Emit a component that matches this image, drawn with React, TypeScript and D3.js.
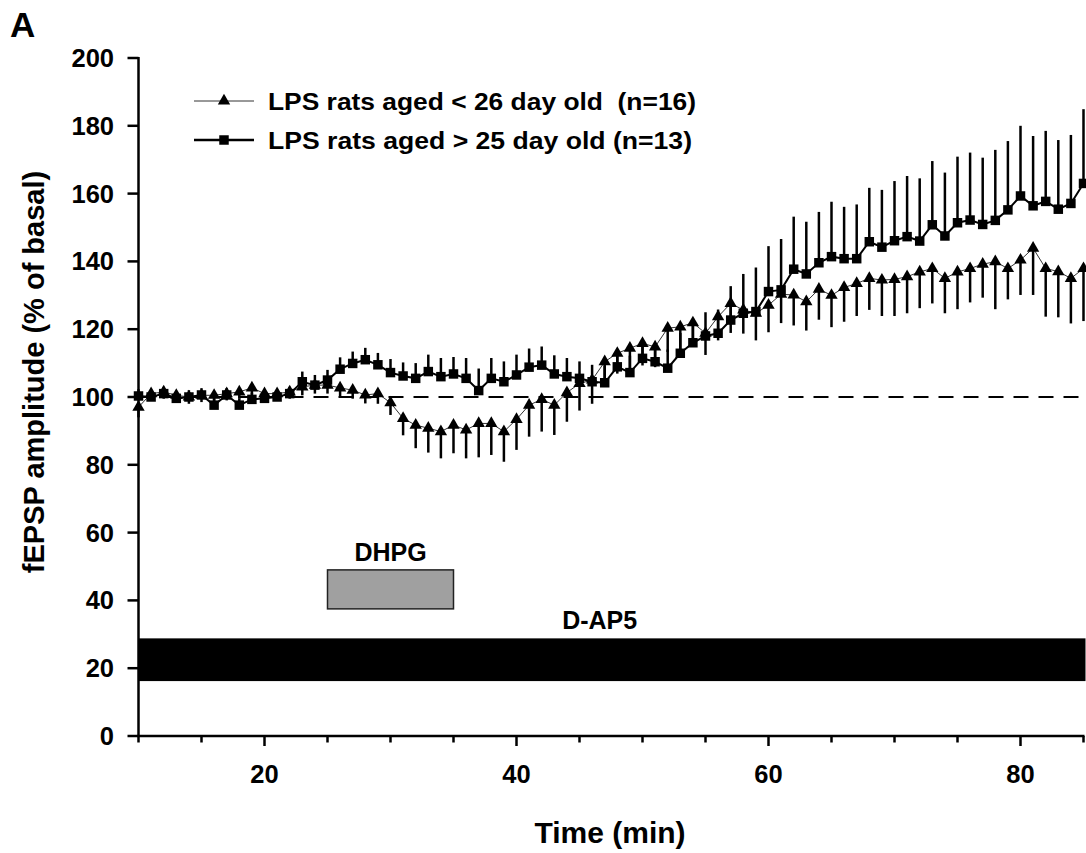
import React from "react";
import * as d3 from "d3";

const times = [10,11,12,13,14,15,16,17,18,19,20,21,22,23,24,25,26,27,28,29,30,31,32,33,34,35,36,37,38,39,40,41,42,43,44,45,46,47,48,49,50,51,52,53,54,55,56,57,58,59,60,61,62,63,64,65,66,67,68,69,70,71,72,73,74,75,76,77,78,79,80,81,82,83,84,85];

// LPS rats aged < 26 day old (n=16) — triangles
const youngMean = [97,101,101.5,100.5,100,100.5,100.5,101,101.5,102.7,101,101,101.5,103,103.5,103.5,102.7,102,100.6,101,98.3,93.7,91.7,90.8,89.8,91.7,90.3,92.2,92.2,89.8,93.4,97.6,99.3,97.6,101.3,104,105,110.4,112.9,114.4,115.8,114.8,120.3,120.7,121.9,118.8,123.7,127.6,125.7,124.7,127.1,130.3,130.1,128.1,131.8,130,132.3,133.5,135,134.5,134.7,135.5,136.9,137.9,135,136.9,137.9,139.2,139.9,137.9,140.4,143.9,137.9,137,135,137.9];
const youngSem = [3,2,2,2,2,2,2,2,2,2,2,2,2,2.5,2.5,2.5,2.5,2.5,2.5,3,3.6,5,6.8,7.2,7.9,8.3,8.4,10,9.3,8.9,9,9.3,9.5,8.8,8.6,8,7,6,6,6,6.5,6,7,7,7,6.4,7,8.7,7,8,8,8.5,9,8.5,9,9.4,10.1,9.6,9.3,10.6,10.8,10.8,10.7,10.3,10.3,11,10,9.9,14,9.1,10.3,13.8,14.2,13.5,13.3,15.5];

// LPS rats aged > 25 day old (n=13) — squares
const oldMean = [100.3,100,101,99.6,100,100.6,97.6,100.6,97.6,99.3,99.6,100,101,104.5,103.5,105,108.2,109.9,111,109.5,107.2,106.2,105.5,107.5,106,106.8,105.5,101.9,105.5,104.5,106.5,108.8,109.4,106.8,106,105.5,104.5,104.2,108.9,107.2,111.4,110.4,108.5,112.9,116,118,118.8,122.7,124.7,125.2,131.1,131.6,137.7,136.3,139.6,141.4,140.8,140.8,145.8,144.2,146.1,147.3,146,150.8,147.5,151.4,152.2,150.9,152.1,155.2,159.3,156.4,157.7,155.4,157.1,163];
const oldSem = [2,2,2,2,2,2,2,2,2,2,2,2,2,3,3,3,3.5,3.5,3.5,3.5,4,4,4.5,5,5.5,5,6,6.5,6,6,6,5.5,5.5,5.5,5.5,5,5,5,5,5,5.5,5,5.5,6,6,7,7,10,11.6,13,13.4,15,15.5,15.4,15,16.2,15.3,16,15.9,16.9,17.6,17.9,18.5,18.8,18.7,19.5,19.9,19.7,20.8,20.3,20.7,20.6,20.8,20.4,20.2,21.9];

const legendLabels = ["LPS rats aged < 26 day old  (n=16)", "LPS rats aged > 25 day old (n=13)"];
const yTicks = [0,20,40,60,80,100,120,140,160,180,200];
const xTicks = [10,15,20,25,30,35,40,45,50,55,60,65,70,75,80,85];
const xTickLabels = [20,40,60,80];
const dhpg = { label: "DHPG", start: 25, end: 35, low: 37.5, high: 49 };
const dap5 = { label: "D-AP5", start: 10, end: 85, low: 16.2, high: 28.8, labelAt: 46.6 };
const baseline = 100;

const FONT = "'Liberation Sans', Arial, Helvetica, sans-serif";

export default function App() {
  const x = d3.scaleLinear().domain([10, 85]).range([138.5, 1083.5]);
  const y = d3.scaleLinear().domain([0, 200]).range([736, 58]);
  const x0 = x(10);

  const young = times.map((t, i) => ({ t, m: youngMean[i], s: youngSem[i] }));
  const old = times.map((t, i) => ({ t, m: oldMean[i], s: oldSem[i] }));

  const line = d3.line<{ t: number; m: number }>().x(d => x(d.t)).y(d => y(d.m));
  const tri = d3.symbol().type(d3.symbolTriangle).size(66)();
  const sq = d3.symbol().type(d3.symbolSquare).size(90)();

  return (
    <svg width={1086} height={853} style={{ position: "absolute", left: 0, top: 0, background: "#fff" }} fontFamily={FONT}>
      <rect x={0} y={0} width={1086} height={853} fill="#fff" />
      <text x={10} y={37} fontSize={35} fontWeight="bold">A</text>

      {/* drug bars */}
      <rect x={x(dap5.start)} y={y(dap5.high)} width={x(dap5.end) - x(dap5.start) + 2} height={y(dap5.low) - y(dap5.high)} fill="#000" />
      <text x={x(dap5.labelAt)} y={y(dap5.high) - 9} fontSize={25} fontWeight="bold" textAnchor="middle">{dap5.label}</text>
      <rect x={x(dhpg.start)} y={y(dhpg.high)} width={x(dhpg.end) - x(dhpg.start)} height={y(dhpg.low) - y(dhpg.high)} fill="#a0a0a0" stroke="#222" strokeWidth={1.5} />
      <text x={x((dhpg.start + dhpg.end) / 2)} y={y(dhpg.high) - 9} fontSize={25} fontWeight="bold" textAnchor="middle">{dhpg.label}</text>

      {/* baseline */}
      <line x1={x0} x2={x(85)} y1={y(baseline)} y2={y(baseline)} stroke="#000" strokeWidth={2} strokeDasharray="15,10" />

      {/* error bars */}
      {old.map(d => (
        <line key={"oe" + d.t} x1={x(d.t)} x2={x(d.t)} y1={y(d.m)} y2={y(d.m + d.s)} stroke="#000" strokeWidth={2.5} />
      ))}
      {young.map(d => (
        <line key={"ye" + d.t} x1={x(d.t)} x2={x(d.t)} y1={y(d.m)} y2={y(d.m - d.s)} stroke="#000" strokeWidth={2.5} />
      ))}

      {/* lines */}
      <path d={line(young) || ""} fill="none" stroke="#333" strokeWidth={1} />
      <path d={line(old) || ""} fill="none" stroke="#000" strokeWidth={2} />

      {/* markers */}
      {young.map(d => (
        <path key={"ym" + d.t} d={tri || ""} transform={`translate(${x(d.t)},${y(d.m)})`} fill="#000" />
      ))}
      {old.map(d => (
        <path key={"om" + d.t} d={sq || ""} transform={`translate(${x(d.t)},${y(d.m)})`} fill="#000" />
      ))}

      {/* axes */}
      <line x1={x0} x2={x0} y1={y(200) - 1} y2={y(0) + 1} stroke="#000" strokeWidth={2.5} />
      <line x1={x0 - 1} x2={x(85) + 1} y1={y(0)} y2={y(0)} stroke="#000" strokeWidth={2.5} />
      {yTicks.map(v => (
        <g key={"yt" + v}>
          <line x1={x0 - 11} x2={x0} y1={y(v)} y2={y(v)} stroke="#000" strokeWidth={2.5} />
          <text x={114} y={y(v) + 9} fontSize={25.5} fontWeight="bold" textAnchor="end">{v}</text>
        </g>
      ))}
      {xTicks.map(v => (
        <line key={"xt" + v} x1={x(v)} x2={x(v)} y1={y(0)} y2={y(0) + (xTickLabels.includes(v) ? 10 : 6.5)} stroke="#000" strokeWidth={2.5} />
      ))}
      {xTickLabels.map(v => (
        <text key={"xl" + v} x={x(v)} y={783} fontSize={25.5} fontWeight="bold" textAnchor="middle">{v}</text>
      ))}

      <text x={610} y={843} fontSize={30} fontWeight="bold" textAnchor="middle">Time (min)</text>
      <text transform={`translate(44,372) rotate(-90)`} fontSize={29} fontWeight="bold" textAnchor="middle">fEPSP amplitude (% of basal)</text>

      {/* legend */}
      <line x1={194} x2={254} y1={101} y2={101} stroke="#333" strokeWidth={1} />
      <path d={tri || ""} transform="translate(224,101)" fill="#000" />
      <text x={268} y={110} fontSize={23} fontWeight="bold" textLength={428} lengthAdjust="spacingAndGlyphs" style={{ whiteSpace: "pre" }}>{legendLabels[0]}</text>
      <line x1={194} x2={254} y1={140} y2={140} stroke="#000" strokeWidth={2.5} />
      <path d={sq || ""} transform="translate(224,140)" fill="#000" />
      <text x={268} y={149} fontSize={23} fontWeight="bold" textLength={424} lengthAdjust="spacingAndGlyphs" style={{ whiteSpace: "pre" }}>{legendLabels[1]}</text>
    </svg>
  );
}
